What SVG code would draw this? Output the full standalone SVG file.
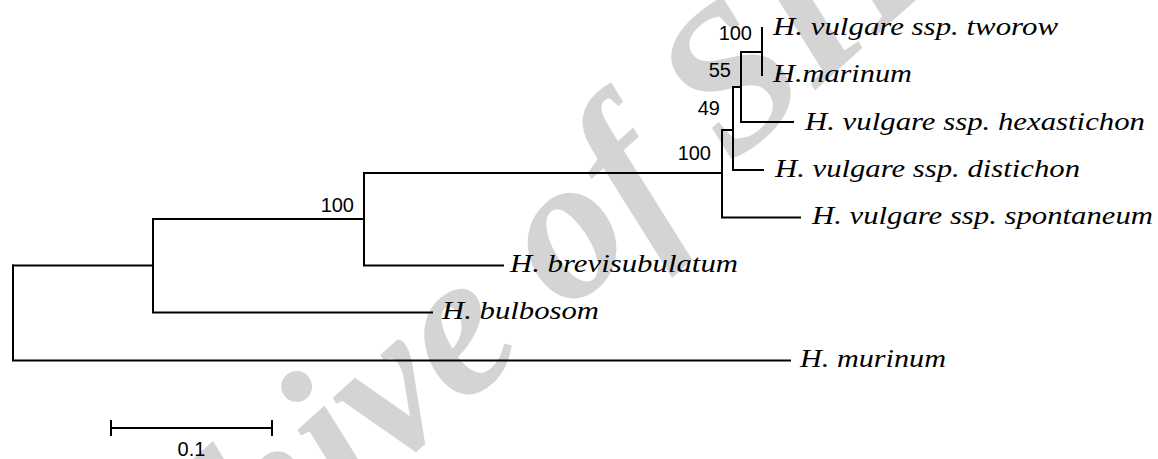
<svg xmlns="http://www.w3.org/2000/svg" width="1158" height="459" viewBox="0 0 1158 459">
<style>
.br{stroke:#000;stroke-width:2;fill:none;stroke-linecap:square}
.tx{font-family:"Liberation Serif","Times New Roman",serif;font-style:italic;font-size:26px;fill:#000}
.bs{font-family:"Liberation Sans",Arial,sans-serif;font-size:20px;fill:#000;text-anchor:end}
.wm{font-family:"Liberation Serif","Times New Roman",serif;font-style:italic;font-weight:bold;font-size:205px;fill:#d4d4d4}
</style>
<rect width="1158" height="459" fill="#fff"/>
<g id="watermark"><text class="wm" transform="translate(38,790) rotate(-42)">Archive of SID</text></g>
<g id="connectors">
<path class="br" d="M13,265.5V360.5H790"/>
<path class="br" d="M13,265.5H153"/>
<path class="br" d="M153,219V312.5H432"/>
<path class="br" d="M153,219H364"/>
<path class="br" d="M364,173V265.5H503"/>
<path class="br" d="M364,173H722"/>
<path class="br" d="M722,130V217.5H800"/>
<path class="br" d="M722,130H733"/>
<path class="br" d="M733,87V170H763"/>
<path class="br" d="M733,87H741"/>
<path class="br" d="M741,52V122H793"/>
<path class="br" d="M741,52H762"/>
<path class="br" d="M762,28V75"/>
</g>
<g id="leaf-tworow"><text class="tx" x="773" y="35" textLength="285" lengthAdjust="spacingAndGlyphs">H. vulgare ssp. tworow</text></g>
<g id="leaf-marinum"><text class="tx" x="773" y="82" textLength="139" lengthAdjust="spacingAndGlyphs">H.marinum</text></g>
<g id="leaf-hexastichon"><text class="tx" x="805" y="130" textLength="340" lengthAdjust="spacingAndGlyphs">H. vulgare ssp. hexastichon</text></g>
<g id="leaf-distichon"><text class="tx" x="775" y="177" textLength="305" lengthAdjust="spacingAndGlyphs">H. vulgare ssp. distichon</text></g>
<g id="leaf-spontaneum"><text class="tx" x="812" y="224" textLength="341" lengthAdjust="spacingAndGlyphs">H. vulgare ssp. spontaneum</text></g>
<g id="leaf-brevisubulatum"><text class="tx" x="510" y="272" textLength="228" lengthAdjust="spacingAndGlyphs">H. brevisubulatum</text></g>
<g id="leaf-bulbosom"><text class="tx" x="442" y="319" textLength="157" lengthAdjust="spacingAndGlyphs">H. bulbosom</text></g>
<g id="leaf-murinum"><text class="tx" x="800" y="367" textLength="146" lengthAdjust="spacingAndGlyphs">H. murinum</text></g>
<g id="boot-762"><text class="bs" x="752" y="40">100</text></g>
<g id="boot-741"><text class="bs" x="731" y="77">55</text></g>
<g id="boot-733"><text class="bs" x="720" y="115">49</text></g>
<g id="boot-722"><text class="bs" x="711" y="160">100</text></g>
<g id="boot-364"><text class="bs" x="354" y="212">100</text></g>
<g id="scalebar">
<path class="br" d="M111,428H272M111,420V436M272,420V436" style="stroke-linecap:butt"/>
<text x="191.5" y="456" style="font-family:'Liberation Sans',Arial,sans-serif;font-size:20px;text-anchor:middle">0.1</text>
</g>
</svg>
